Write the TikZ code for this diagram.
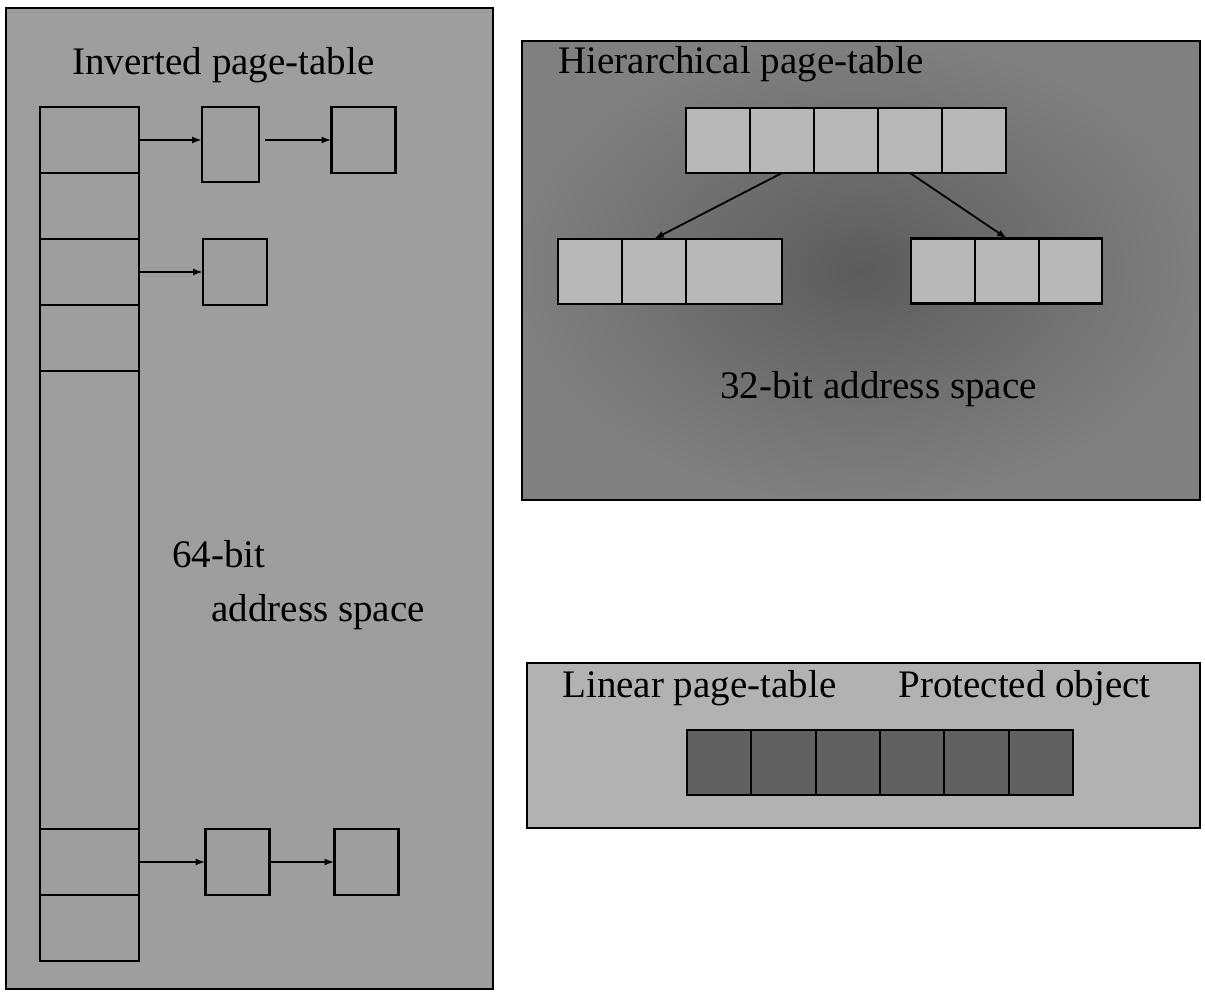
\documentclass[tikz,border=0pt]{standalone}
\usepackage{fontspec}
\setmainfont{Liberation Serif}
\usepackage{tikz}
\usetikzlibrary{positioning}
\usetikzlibrary{%
  calc,%
  arrows.meta%
}
\tikzset{
  panel/.style={draw, line width=0.8pt},
  cell/.style={draw, line width=1.1pt, inner sep=0pt, outer sep=0pt,
    minimum width=32pt, minimum height=32.5pt},
  slot/.style={cell, minimum width=49.5pt, minimum height=33pt},
  tag/.style={font=\fontsize{19.5}{23}\selectfont, inner sep=0pt, anchor=base west},
}

\begin{document}
\begin{tikzpicture}[x=0.5pt,y=-0.5pt,>={Latex[length=5pt,width=3.5pt]}]
\useasboundingbox (0,0) rectangle (1205,991);

\draw[panel, fill=black!38] (6,8) rectangle (493,989);
\draw[panel, inner color=black!64, outer color=black!50] (522,41) rectangle (1200,500);
\draw[panel, fill=black!30] (527,663) rectangle (1200,828);

% inverted
\node[tag] (invt) at (72,74) {Inverted page-table};
\node[slot] (c1) at (89.5,140) {};
\node[slot] (c2) at (89.5,206) {};
\node[slot] (c3) at (89.5,272) {};
\node[slot] (c4) at (89.5,338) {};
\node[slot, minimum height=229pt] (c5) at (89.5,600) {};
\node[slot] (c6) at (89.5,862) {};
\node[slot] (c7) at (89.5,928) {};
\node[cell, minimum width=28.5pt, minimum height=37.5pt] (a1) at (230.5,144.5) {};
\node[cell, minimum height=33pt] (a2) at (363.5,140) {};
\node[cell, minimum height=33pt] (b1) at (235,272) {};
\node[cell, minimum height=33pt] (d1) at (237.5,862) {};
\node[cell, minimum height=33pt] (d2) at (366.5,862) {};
\node[tag] (bits64) at (172,567) {64-bit};
\node[tag] (addr64) at (211,621) {address space};

\path [->, line width=0.9pt] (c1.east) edge (c1.east -| a1.west)
           (a1.east |- a2.west) edge[shorten <=3pt] (a2.west)
           (c3.east) edge (b1.west)
           (c6.east) edge (d1.west)
           (d1.east) edge (d2.west);

% hierarchical
\node[tag] (hiert) at (558,73) {Hierarchical page-table};
\foreach \i/\x in {1/718,2/782,3/846,4/910,5/974}
  \node[cell, fill=black!28] (h\i) at (\x,140.5) {};
\node[cell, fill=black!28] (l1) at (590,271.5) {};
\node[cell, fill=black!28] (l2) at (654,271.5) {};
\node[cell, fill=black!28, minimum width=48pt] (l3) at (734,271.5) {};
\node[cell, fill=black!28] (r1) at (943,271) {};
\node[cell, fill=black!28] (r2) at (1007,271) {};
\node[cell, fill=black!28, minimum width=31.5pt] (r3) at (1070.5,271) {};
\node[tag] (addr32) at (720,398) {32-bit address space};

\path [->, line width=0.9pt] (h2.south) edge (l2.north)
           (h4.south) edge (r2.north);

% linear
\node[tag] (lint) at (562,697) {Linear page-table};
\node[tag] (prot) at (898,697) {Protected object};
\foreach \i in {0,...,5}
  \node[cell, fill=black!62, minimum width=32.17pt] (p\i) at ({719.17+64.33*\i},762.5) {};
\end{tikzpicture}
\end{document}
